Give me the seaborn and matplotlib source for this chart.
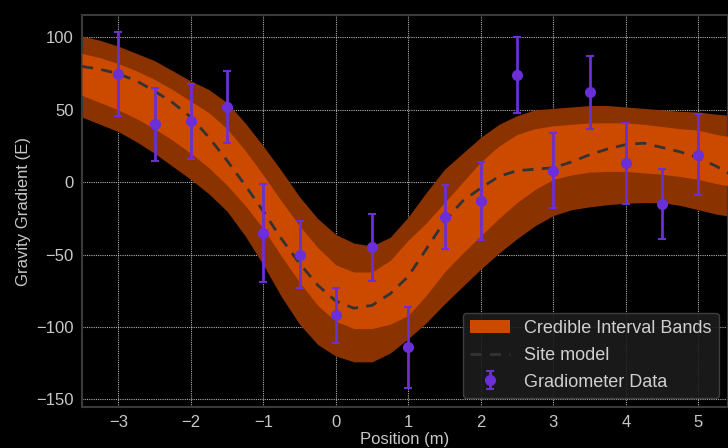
import seaborn as sns
import matplotlib.pyplot as plt
import pandas as pd
import numpy as np

# gradiometer readings (position m, gradient E, 1-sigma error)
pos = [-3, -2.5, -2, -1.5, -1, -0.5, 0, 0.5, 1, 1.5, 2, 2.5, 3, 3.5, 4, 4.5, 5]
grad = [75, 40, 42, 52, -35, -50, -92, -45, -114, -24, -13, 74, 8, 62, 13, -15, 19]
err = [29, 25, 26, 25, 34, 23, 19, 23, 28, 22, 27, 26, 26, 25, 28, 24, 28]

grid_x = [-3.5, -3.25, -3, -2.75, -2.5, -2.25, -2, -1.75, -1.5, -1.25, -1, -0.75, -0.5,
          -0.25, 0, 0.25, 0.5, 0.75, 1, 1.25, 1.5, 1.75, 2, 2.25, 2.5, 2.75, 3, 3.25,
          3.5, 3.75, 4, 4.25, 4.5, 4.75, 5, 5.25, 5.5]
model = [80, 78, 75, 70, 63, 55, 45, 31, 15, -2, -20, -39, -56, -71, -82, -87, -85, -77,
         -65, -46, -27, -13, -4, 4, 8, 9, 10, 14, 19, 23, 26, 27, 24, 21, 17, 11, 4]
outer_hi = [101, 98, 94, 89, 84, 77, 70, 64, 55, 41, 25, 8, -10, -25, -36, -42, -44, -38,
            -24, -7, 9, 20, 31, 40, 46, 50, 51, 52, 53, 53, 52, 51, 50, 49, 48.5, 47, 46]
inner_hi = [89, 86, 82, 77, 71, 64, 56, 48, 37, 22, 5, -13, -30, -45, -57, -62, -62, -54,
            -40, -28, -14, 0, 14, 25, 33, 37, 39, 40, 41, 41, 41, 40, 38.5, 37, 36, 33, 31]
inner_lo = [60, 55, 50, 44, 37, 29, 20, 10, -2, -16, -32, -51, -69, -85, -96, -101, -101, -98,
            -92, -78, -62, -49, -37, -25, -14, -5, 2, 5, 7, 7.5, 7.5, 6.5, 5.5, 4, 2, -1, -3]
outer_lo = [45, 40, 35, 28, 20, 11, 2, -8, -20, -37, -57, -79, -98, -112, -120, -124, -124,
            -118, -108, -97, -84, -72, -60, -49, -39, -30, -23, -19, -17, -15.5, -14.5, -14,
            -14, -16, -19, -22, -24]

data = pd.DataFrame({"x": pos, "y": grad, "err": err})
bands = pd.DataFrame({"x": grid_x, "model": model,
                      "ohi": outer_hi, "ihi": inner_hi,
                      "ilo": inner_lo, "olo": outer_lo})

sns.set_theme(style="darkgrid")
plt.rcParams['font.family'] = ['Liberation Sans', 'DejaVu Sans']

fig = plt.figure(figsize=(7.28, 4.48), dpi=100, facecolor="black")
ax = fig.add_axes([82/728, 41/448, 1 - 82/728, (407-15)/448])
ax.set_facecolor("black")

ax.fill_between(bands["x"], bands["olo"], bands["ohi"], color="#8a3200", lw=0, zorder=2)
ax.fill_between(bands["x"], bands["ilo"], bands["ihi"], color="#cc4a00", lw=0, zorder=3,
                label="Credible Interval Bands")
sns.lineplot(data=bands, x="x", y="model", ax=ax, color="#333333", lw=2,
             linestyle=(0, (4, 3)), label="Site model", zorder=4)
ax.errorbar(data["x"], data["y"], yerr=data["err"], fmt="o", color="#6a2fd6",
            ms=7, elinewidth=2, capsize=3, capthick=1.5, label="Gradiometer Data", zorder=5)

ax.set_xlim(-3.5, 5.41)
ax.set_ylim(-155.2, 115.5)
ax.set_xticks(range(-3, 6))
ax.set_yticks([-150, -100, -50, 0, 50, 100])
ax.grid(True, color="#dddddd", linestyle=(0, (1, 1)), lw=0.8, alpha=0.8)
for line in ax.get_xgridlines() + ax.get_ygridlines():
    line.set_zorder(3.5)

for s in ax.spines.values():
    s.set_visible(True)
    s.set_color("#3a3a3a")
    s.set_linewidth(1.5)
ax.tick_params(colors="#c8c8c8", labelsize=12, length=0, pad=6)
ax.set_xlabel("Position (m)", color="#c8c8c8", fontsize=12, labelpad=1)
ax.set_ylabel("Gravity Gradient (E)", color="#c8c8c8", fontsize=12)

leg = ax.legend(loc="lower right", fontsize=13, facecolor="#1c1c1c", edgecolor="#444444",
                framealpha=0.9, labelcolor="#d0d0d0", labelspacing=0.55, handlelength=2.2)
leg.set_zorder(10)

fig.savefig("out.png", dpi=100, facecolor="black")
